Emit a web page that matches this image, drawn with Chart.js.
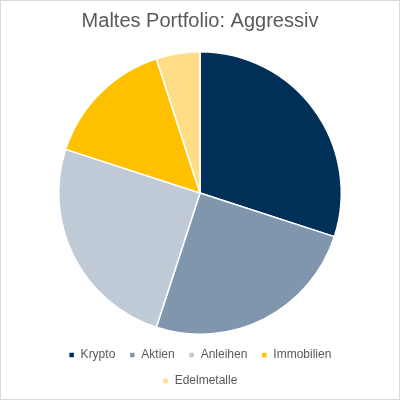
<!DOCTYPE html>
<html>
<head>
<meta charset="utf-8">
<script src="https://cdn.jsdelivr.net/npm/chart.js"></script>
<style>
  html, body { margin: 0; padding: 0; background: #fff; }
  #wrap { width: 398px; height: 398px; border: 1px solid #d9d9d9; }
</style>
</head>
<body>
<div id="wrap"><canvas id="portfolio" width="398" height="398"></canvas></div>
<script>
const labels = ["Krypto", "Aktien", "Anleihen", "Immobilien", "Edelmetalle"];
const anteile = [30, 25, 25, 15, 5];
const farben = ["#002f57", "#7f96ac", "#bfcad6", "#ffc000", "#ffdd87"];

new Chart(document.getElementById("portfolio"), {
  type: 'pie',
  data: {
    labels: labels,
    datasets: [{ data: anteile, backgroundColor: farben, borderColor: '#ffffff', borderWidth: 1.5 }]
  },
  options: {
    responsive: false,
    animation: false,
    layout: { padding: { top: 0, bottom: 2, left: 10, right: 10 } },
    plugins: {
      title: {
        display: true,
        text: 'Maltes Portfolio: Aggressiv',
        color: '#595959',
        font: { family: 'Liberation Sans', size: 20, weight: 'normal' },
        padding: { top: 8, bottom: 18 }
      },
      legend: {
        position: 'bottom',
        labels: {
          color: '#595959',
          font: { family: 'Liberation Sans', size: 12 },
          usePointStyle: true,
          pointStyle: 'rect',
          boxWidth: 6,
          boxHeight: 6,
          padding: 14
        }
      },
      tooltip: { enabled: false }
    }
  }
});
</script>
</body>
</html>
